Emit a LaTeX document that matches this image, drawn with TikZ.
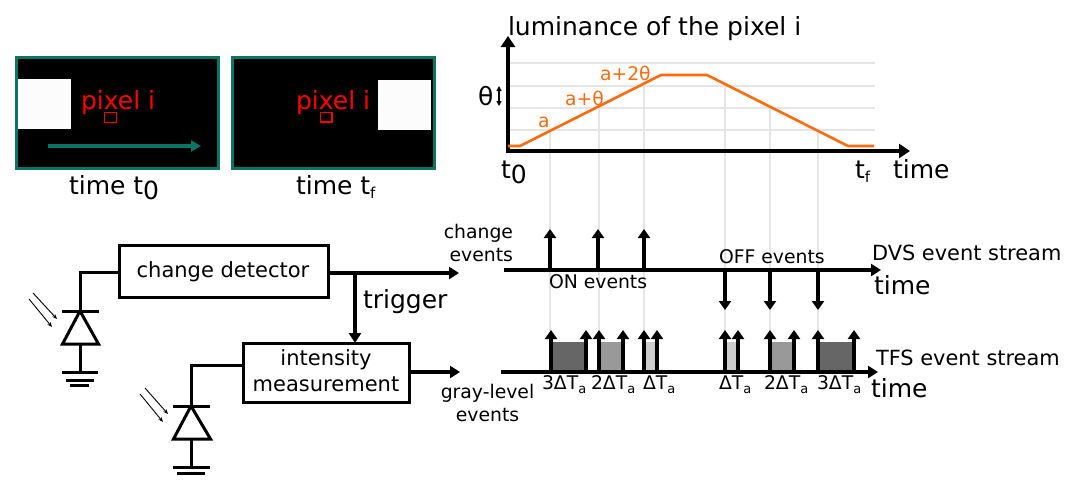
\documentclass[tikz,border=0pt]{standalone}
\usepackage{fontspec}
\setmainfont{DejaVu Sans}
\usetikzlibrary{arrows.meta}
\definecolor{teal1}{HTML}{0A7565}
\definecolor{orange1}{HTML}{FF6A0D}
\definecolor{grid1}{HTML}{E5E5E5}
\newcommand{\fsz}[1]{\fontsize{#1}{#1}\selectfont}
\newcommand{\lowsub}[2]{\raisebox{-#1pt}{#2}}
\tikzset{
  txt/.style={inner sep=0pt,outer sep=0pt,anchor=base west,font=\fsz{#1}},
  txt/.default=20,
  frame1/.style={draw=teal1,fill=black,line width=3pt},
  whitebox/.style={fill=white!99!black,draw=none},
  redbox/.style={draw=red,line width=1.4pt,fill=none},
  gridl/.style={draw=grid1,line width=1.5pt},
  axisl/.style={line width=4pt,-{Triangle[length=11pt,width=14pt]}},
  evt/.style={line width=3.5pt,-{Triangle[length=9pt,width=12pt]}},
  block/.style={draw,line width=3pt,fill=white,inner sep=0pt,outer sep=0pt,align=center},
  wire/.style={line width=3pt},
  ray/.style={line width=.9pt,-{Stealth[length=5pt,width=4pt]}},
  curve/.style={draw=orange1,line width=2.6pt,line join=round},
  bar1/.style={line width=3pt},
}
\begin{document}
\begin{tikzpicture}[x=1pt,y=-1pt]
\useasboundingbox (0,0) rectangle (1078,479);
% images
\path[frame1] (16.5,57.5) rectangle (218.5,168.5);
\path[frame1] (232,57.5) rectangle (434,168.5);
\path[whitebox] (18,79) rectangle (71,129);
\path[whitebox] (378,80) rectangle (431,130);
\node[txt=25,text=red] (p1) at (81,109) {pixel i};
\node[txt=25,text=red] (p2) at (296,109) {pixel i};
\path[redbox] (104.5,112.5) rectangle (116.5,122.5);
\path[redbox] (320.5,112.5) rectangle (332,122);
\coordinate (ma) at (48,146); \coordinate (mb) at (201,146);
\draw[teal1,line width=3.5pt,-{Triangle[length=10pt,width=11pt]}] (ma) -- (mb);
\node[txt=25] (t1) at (69,194) {time t\lowsub{5}{\fsz{25}0}};
\node[txt=25] (t2) at (296,194) {time t\lowsub{4}{\fsz{15}f}};
% plot
\foreach \y in {63,86,108,130} \draw[gridl] (508,\y) -- (875,\y);
\foreach \x/\y in {550/129,599/105,644/82,725/84,770/107,818/131} \draw[gridl] (\x,\y) -- (\x,331);
\coordinate (o) at (508,151);
\coordinate (ytip) at (508,36);
\coordinate (xtip) at (910,151);
\draw[axisl] (508,153) -- (ytip);
\draw[axisl] (506,151) -- (xtip);
\path[curve] (508,146) -- (520,146) -- (661,75) -- (707,75) -- (848,146) -- (874,146);
\node[txt=25] (lum) at (508,35) {luminance of the pixel i};
\node[txt=18.8,text=orange1] (la) at (538,127) {a};
\node[txt=18.8,text=orange1] (lb) at (565,105) {a+θ};
\node[txt=18.8,text=orange1] (lc) at (600,80) {a+2θ};
\node[txt=25] (th) at (478,105) {θ};
\coordinate (tha) at (499,86); \coordinate (thb) at (499,106);
\draw[line width=1.2pt,{Triangle[length=5pt,width=5pt]}-{Triangle[length=5pt,width=5pt]}] (tha) -- (thb);
\node[txt=25] (t0) at (501,178) {t\lowsub{5}{\fsz{25}0}};
\node[txt=25] (tf) at (855,178) {t\lowsub{4}{\fsz{15}f}};
\node[txt=25] (tm) at (893,178) {time};
% DVS
\coordinate (d0) at (504,270); \coordinate (d1) at (881,270);
\foreach \x in {550,598,644} \draw[evt] (\x,270) -- (\x,229);
\foreach \x in {725,770,818} \draw[evt] (\x,270) -- (\x,310);
\draw[axisl,line width=3.5pt,-{Triangle[length=10pt,width=12pt]}] (d0) -- (d1);
\node[txt=18.8,anchor=base east] (ce1) at (513,238) {change};
\node[txt=18.8,anchor=base east] (ce2) at (513,261.5) {events};
\node[txt=18.8] (on) at (549,288) {ON events};
\node[txt=18.8] (off) at (719,263) {OFF events};
\node[txt=20.9] (dvs) at (872,260) {DVS event stream};
\node[txt=25] (tm2) at (874,294) {time};
% TFS
\foreach \a/\b/\c in {551/586/666666,599/623/999999,644/657/CCCCCC,725/738/CCCCCC,770/794/999999,818/854/666666}{
  \definecolor{cc}{HTML}{\c}
  \fill[cc] (\a,342) rectangle (\b,372);
  \draw[evt] (\a,372) -- (\a,330);
  \draw[evt] (\b,372) -- (\b,330);
}
\coordinate (f0) at (501,372); \coordinate (f1) at (878,372);
\draw[axisl,line width=3.5pt,-{Triangle[length=10pt,width=12pt]}] (f0) -- (f1);
\node[txt=18.8] at (542,389) {3ΔT\lowsub{4}{\fsz{13}a}};
\node[txt=18.8] at (591,389) {2ΔT\lowsub{4}{\fsz{13}a}};
\node[txt=18.8] at (643,389) {ΔT\lowsub{4}{\fsz{13}a}};
\node[txt=18.8] at (719,389) {ΔT\lowsub{4}{\fsz{13}a}};
\node[txt=18.8] at (764,389) {2ΔT\lowsub{4}{\fsz{13}a}};
\node[txt=18.8] at (817,389) {3ΔT\lowsub{4}{\fsz{13}a}};
\node[txt=18.8,anchor=base] (g1) at (487.5,398) {gray-level};
\node[txt=18.8,anchor=base] (g2) at (487.5,421.5) {events};
\node[txt=20.9] (tfs) at (876,365) {TFS event stream};
\node[txt=25] (tm3) at (871,397) {time};
% circuit
\node[block,minimum width=209pt,minimum height=52pt] (cd) at (223.5,271) {};
\node[txt=21,anchor=base] (cdt) at (223,277) {change detector};
\node[block,minimum width=166pt,minimum height=59pt] (im) at (326,372.5) {};
\node[txt=21,anchor=base] (imt1) at (326,365) {intensity};
\node[txt=21,anchor=base] (imt2) at (326,391) {measurement};
\coordinate (j) at (355,273);
\coordinate (o1) at (459,273);
\coordinate (o2) at (460,372);
\draw[line width=4pt,-{Triangle[length=10pt,width=12pt]}] (cd.east |- j) -- (o1);
\draw[line width=3.5pt,-{Triangle[length=10pt,width=12pt]}] (j) -- (im.north -| j);
\draw[line width=4pt,-{Triangle[length=10pt,width=12pt]}] (im.east |- o2) -- (o2);
\node[txt=25] (trg) at (363,308) {trigger};
% diode 1
\coordinate (k1) at (80,311); \coordinate (a1) at (80,344); \coordinate (g1a) at (80,372);
\draw[wire] (cd.west |- 80,272) -- (80,272) -- (k1);
\draw[bar1] (62,311) -- (99,311);
\draw[wire,line join=miter] (k1) -- (62.5,344) -- (98.5,344) -- cycle;
\draw[wire] (a1) -- (g1a);
\draw[bar1] (62,372) -- (98,372) (66,380) -- (94,380) (70,385) -- (89,385);
\draw[ray] (33,293) -- (57,319);
\draw[ray] (29,299) -- (52,327);
% diode 2
\coordinate (k2) at (191,406); \coordinate (a2) at (191,439); \coordinate (g2a) at (191,467);
\draw[wire] (im.west |- 191,365) -- (191,365) -- (k2);
\draw[bar1] (173,406) -- (210,406);
\draw[wire,line join=miter] (k2) -- (173.5,439) -- (210.5,439) -- cycle;
\draw[wire] (a2) -- (g2a);
\draw[bar1] (173,467) -- (210,467) (177,473) -- (205,473);
\draw[ray] (145,388) -- (168,414);
\draw[ray] (140,394) -- (163,422);
\end{tikzpicture}
\end{document}
